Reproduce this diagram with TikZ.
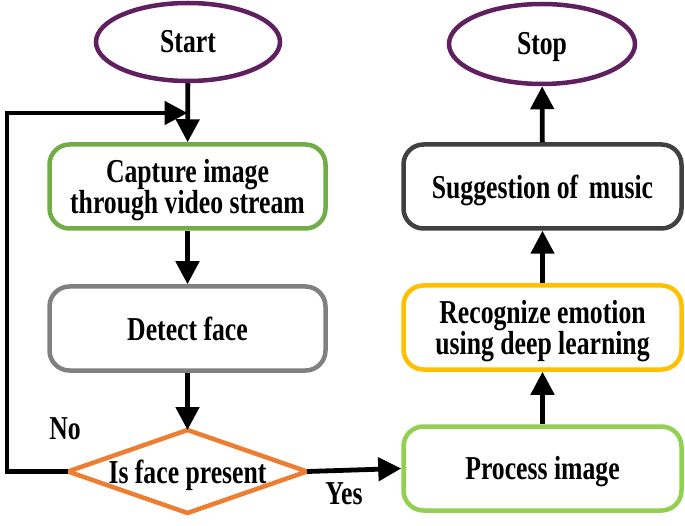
\documentclass[tikz,border=0pt]{standalone}
\usepackage{fontspec}
\setmainfont{Liberation Serif}
\usetikzlibrary{shapes.geometric,arrows.meta}
\definecolor{termc}{RGB}{96,32,96}
\definecolor{capc}{RGB}{112,173,71}
\definecolor{proc}{RGB}{146,208,80}
\definecolor{detc}{RGB}{128,128,128}
\definecolor{sugc}{RGB}{64,64,64}
\definecolor{recc}{RGB}{255,192,0}
\definecolor{decc}{RGB}{237,125,49}
\newcommand{\vtxt}[1]{\raisebox{-4pt}[\height][\depth]{\scalebox{1}[1.3]{\begin{tabular}{@{}c@{}}#1\end{tabular}}}}
\begin{document}
\begin{tikzpicture}[x=1pt,y=1pt,
  txt/.style={font=\fontsize{25.7}{21}\selectfont\bfseries, align=center, inner sep=0pt},
  term/.style={txt, ellipse, draw=termc, fill=white, line width=4.5pt, minimum width=184pt, minimum height=78pt},
  box/.style={txt, rectangle, rounded corners=20pt, fill=white, line width=4.5pt, minimum width=276pt, minimum height=84pt},
  arr/.style={line width=4.8pt, -{Triangle[width=23pt,length=23pt]}},
  lbl/.style={font=\fontsize{25.7}{21}\selectfont\bfseries, inner sep=0pt},
]
\useasboundingbox (0,0) rectangle (685,-526);

% left column
\node[term] (start) at (188,-42) {\vtxt{Start}};
\node[box, draw=capc] (cap) at (187.5,-186.5) {\vtxt{Capture image\\through video stream}};
\node[box, draw=detc] (det) at (187.5,-328.5) {\vtxt{Detect face}};

% decision
\coordinate (dtop) at (187.5,-430);
\coordinate (dbot) at (187.5,-513);
\coordinate (dL) at (68,-471.5);
\coordinate (dR) at (307,-471.5);
\draw[decc, line width=4.5pt, line join=miter] (dtop) -- (dR) -- (dbot) -- (dL) -- cycle;
\node[txt] (dec) at (187.5,-471.5) {\vtxt{Is face present}};

% right column
\node[term] (stop) at (542,-44) [minimum width=186pt, minimum height=80pt] {\vtxt{Stop}};
\node[box, draw=sugc, minimum width=278pt] (sug) at (542.5,-186.5) {\vtxt{Suggestion of\, music}};
\node[box, draw=recc, minimum width=278pt] (rec) at (542.5,-327.5) {\vtxt{Recognize emotion\\using deep learning}};
\node[box, draw=proc, minimum width=278pt] (pro) at (542.5,-468.5) {\vtxt{Process image}};

% labels
\node[lbl] (no) at (65,-429) {\vtxt{No}};
\node[lbl] (yes) at (344,-494) {\vtxt{Yes}};

% connectors
\coordinate (fb) at (187.5,-113);
\draw[arr] (start) -- (cap);
\draw[arr] (cap) -- (det);
\draw[arr] (det) -- (dtop);
\draw[arr] (dL) -- (7,-471.5) |- (fb);
\draw[arr] (dR) -- (pro.west);
\draw[arr] (pro) -- (rec);
\draw[arr] (rec) -- (sug);
\draw[arr] (sug) -- (stop);
\end{tikzpicture}
\end{document}
